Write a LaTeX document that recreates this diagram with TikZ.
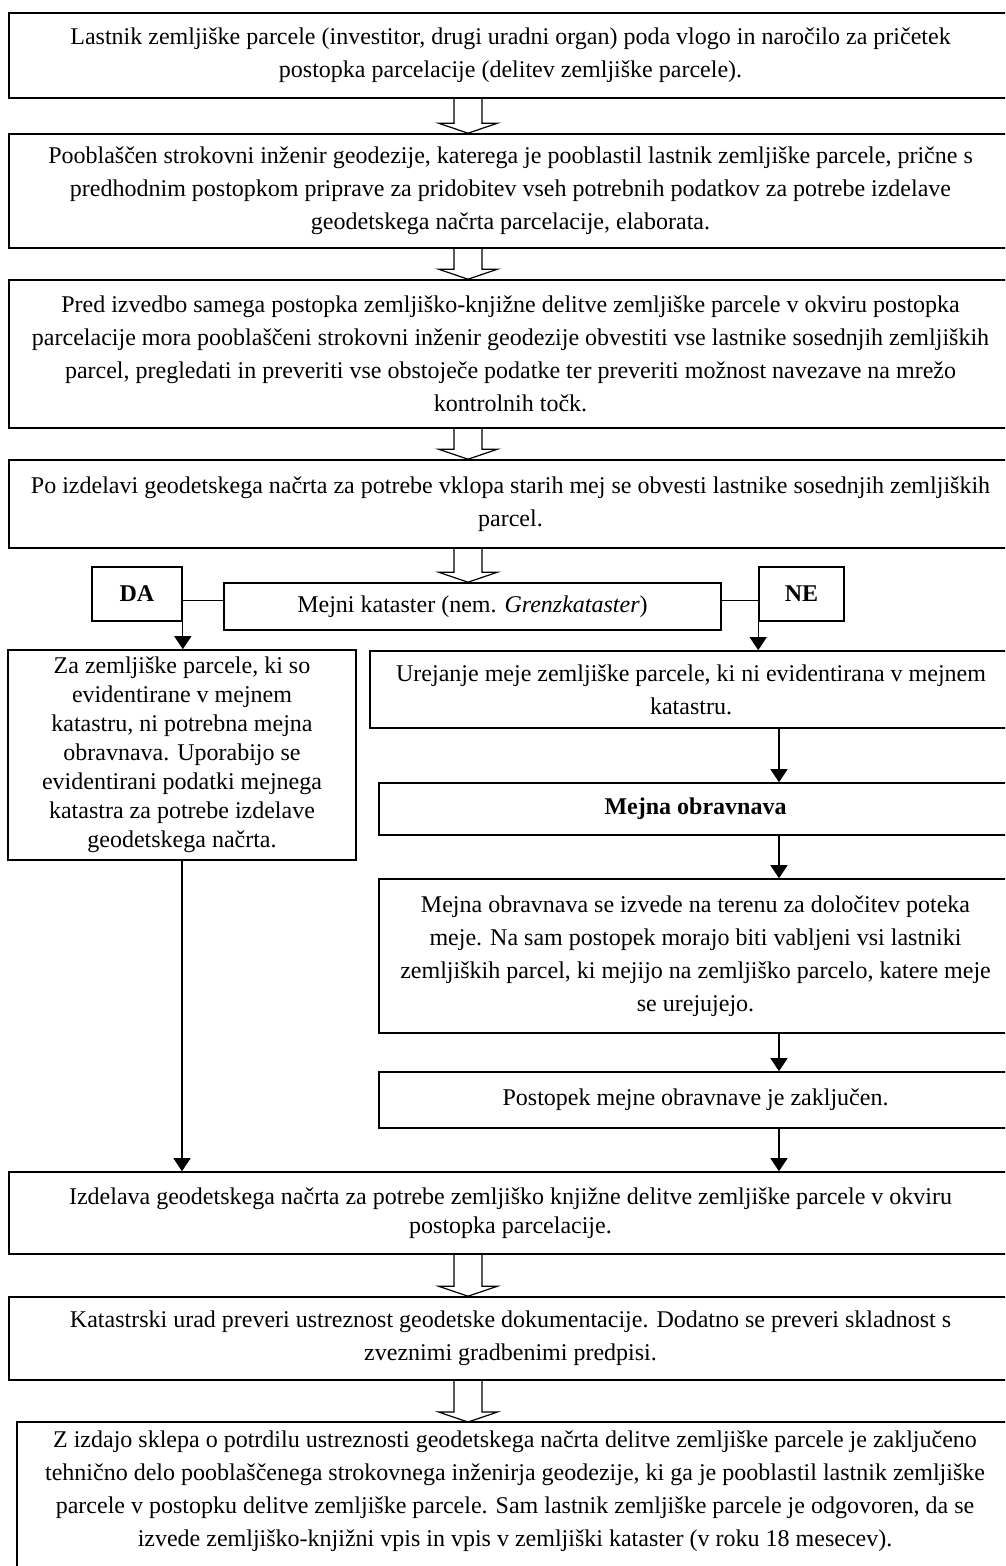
\documentclass[tikz,border=0pt]{standalone}
\usepackage{fontspec}
\setmainfont{Liberation Serif}
\usetikzlibrary{arrows.meta,calc}
\begin{document}
\begin{tikzpicture}[x=0.5pt,y=-0.5pt,
  box/.style={draw, line width=0.8pt, align=center, inner sep=0pt,
    font=\fontsize{12}{16.5}\selectfont},
  tight/.style={font=\fontsize{12}{14.5}\selectfont},
  boldbox/.style={box, font=\fontsize{12}{14}\selectfont\bfseries},
  boxline/.style={line width=0.8pt},
  conn/.style={line width=0.6pt},
  arr/.style={line width=0.6pt, -{Triangle[length=6.5pt,width=8.5pt]}},
  hol/.style={line width=0.6pt, line join=miter},
]
\clip (0,0) rectangle (1005,1566);
\coordinate (ax) at (468,0);
\coordinate (rx) at (779,0);

\node[box, minimum width=501.5pt, minimum height=42.5pt] (b1) at (510.5,55.5)
 {Lastnik zemljiške parcele (investitor, drugi uradni organ) poda vlogo in naročilo za pričetek\\
  postopka parcelacije (delitev zemljiške parcele).};
\node[box, minimum width=501.5pt, minimum height=57pt] (b2) at (510.5,191)
 {Pooblaščen strokovni inženir geodezije, katerega je pooblastil lastnik zemljiške parcele, prične s\\
  predhodnim postopkom priprave za pridobitev vseh potrebnih podatkov za potrebe izdelave\\
  geodetskega načrta parcelacije, elaborata.};
\node[box, minimum width=501.5pt, minimum height=74pt] (b3) at (510.5,354)
 {Pred izvedbo samega postopka zemljiško-knjižne delitve zemljiške parcele v okviru postopka\\
  parcelacije mora pooblaščeni strokovni inženir geodezije obvestiti vse lastnike sosednjih zemljiških\\
  parcel, pregledati in preveriti vse obstoječe podatke ter preveriti možnost navezave na mrežo\\
  kontrolnih točk.};
\node[box, minimum width=501.5pt, minimum height=44pt] (b4) at (510.5,504)
 {Po izdelavi geodetskega načrta za potrebe vklopa starih mej se obvesti lastnike sosednjih zemljiških\\
  parcel.};
\node[box, minimum width=248.5pt, minimum height=23.5pt] (mk) at (472.5,606.5)
 {Mejni kataster (nem. \textit{Grenzkataster})};
\node[boldbox, minimum width=45pt, minimum height=27pt] (da) at (137,594) {DA};
\node[boldbox, minimum width=42.5pt, minimum height=27pt] (ne) at (801.5,594) {NE};
\node[box, tight, minimum width=174pt, minimum height=105pt] (lb) at (182,755)
 {Za zemljiške parcele, ki so\\
  evidentirane v mejnem\\
  katastru, ni potrebna mejna\\
  obravnava. Uporabijo se\\
  evidentirani podatki mejnega\\
  katastra za potrebe izdelave\\
  geodetskega načrta.};
\node[box, minimum width=321pt, minimum height=38.5pt] (ur) at (691,689.5)
 {Urejanje meje zemljiške parcele, ki ni evidentirana v mejnem\\
  katastru.};
\node[boldbox, minimum width=316.5pt, minimum height=26pt] (mo) at (695.5,809)
 {Mejna obravnava};
\node[box, minimum width=316.5pt, minimum height=77pt] (de) at (695.5,956)
 {Mejna obravnava se izvede na terenu za določitev poteka\\
  meje. Na sam postopek morajo biti vabljeni vsi lastniki\\
  zemljiških parcel, ki mejijo na zemljiško parcelo, katere meje\\
  se urejujejo.};
\node[box, minimum width=316.5pt, minimum height=28pt] (po) at (695.5,1100)
 {Postopek mejne obravnave je zaključen.};
\node[box, tight, minimum width=501.5pt, minimum height=41pt] (iz) at (510.5,1213)
 {Izdelava geodetskega načrta za potrebe zemljiško knjižne delitve zemljiške parcele v okviru\\
  postopka parcelacije.};
\node[box, minimum width=501.5pt, minimum height=41.5pt] (ka) at (510.5,1338.5)
 {Katastrski urad preveri ustreznost geodetske dokumentacije. Dodatno se preveri skladnost s\\
  zveznimi gradbenimi predpisi.};
\node[box, draw=none, anchor=north, minimum width=497pt, inner ysep=4pt] (fi) at (515,1422)
 {Z izdajo sklepa o potrdilu ustreznosti geodetskega načrta delitve zemljiške parcele je zaključeno\\
  tehnično delo pooblaščenega strokovnega inženirja geodezije, ki ga je pooblastil lastnik zemljiške\\
  parcele v postopku delitve zemljiške parcele. Sam lastnik zemljiške parcele je odgovoren, da se\\
  izvede zemljiško-knjižni vpis in vpis v zemljiški kataster (v roku 18 mesecev).};
\draw[boxline] ([yshift=-30pt]fi.south west) -- (fi.north west) -- (fi.north east) -- ([yshift=-30pt]fi.south east);

% hollow arrows
\foreach \a/\b/\n in {b1/b2/1, b2/b3/2, b3/b4/3, b4/mk/4, iz/ka/5, ka/fi/6}{
  \coordinate (t\n) at (\a.south -| ax);
  \coordinate (h\n) at (\b.north -| ax);
  \draw[hol] ($(t\n)+(-14,0)$) -- ($(h\n)+(-14,-10)$) -- ($(h\n)+(-29.5,-10)$) -- (h\n)
    -- ($(h\n)+(29.5,-10)$) -- ($(h\n)+(14,-10)$) -- ($(t\n)+(14,0)$);
}

% DA / NE connectors
\coordinate (cl) at ($(mk.west)+(0,-6)$);
\coordinate (cr) at ($(mk.east)+(0,-6)$);
\draw[conn] (cl) -- (cl -| da.east);
\draw[conn] (cr) -- (cr -| ne.west);
\draw[arr] (da.south east) -- (da.south east |- lb.north);
\draw[arr] (ne.south west) -- (ne.south west |- ur.north);

% right column
\draw[arr] (ur.south -| rx) -- (mo.north -| rx);
\draw[arr] (mo.south -| rx) -- (de.north -| rx);
\draw[arr] (de.south -| rx) -- (po.north -| rx);
\draw[arr] (po.south -| rx) -- (iz.north -| rx);
\draw[arr] (lb.south) -- (lb.south |- iz.north);
\end{tikzpicture}
\end{document}
